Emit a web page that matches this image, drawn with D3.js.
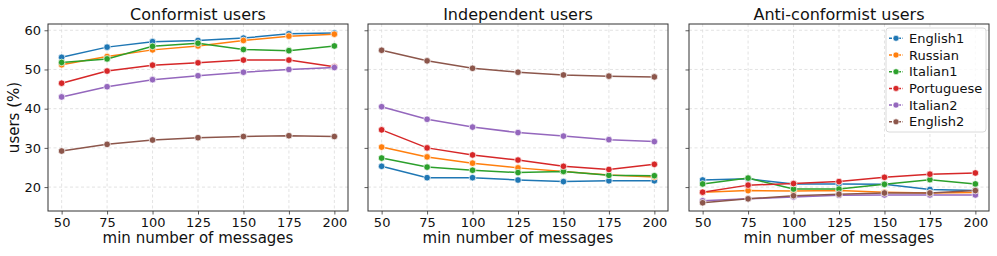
<!DOCTYPE html>
<html>
<head>
<meta charset="utf-8">
<script src="https://cdn.jsdelivr.net/npm/d3@7"></script>
<style>
  body { margin: 0; background: #fff; }
  svg { display: block; font-family: "DejaVu Sans", sans-serif; }
</style>
</head>
<body>
<svg width="997" height="256"></svg>
<script>
// x values shared by every panel
const minMessages = [50, 75, 100, 125, 150, 175, 200];
const languages = ["English1", "Russian", "Italian1", "Portuguese", "Italian2", "English2"];
const colors = ["#1f77b4", "#ff7f0e", "#2ca02c", "#d62728", "#9467bd", "#8c564b"];
const xTicks = [50, 75, 100, 125, 150, 175, 200];
const yTicks = [20, 30, 40, 50, 60];
const panelTitles = ["Conformist users", "Independent users", "Anti-conformist users"];

// values, one row per language
const conformist = [
    [53.1, 55.7, 57.1, 57.4, 58.0, 59.1, 59.3],
    [51.2, 53.3, 55.0, 56.0, 57.4, 58.5, 59.0],
    [51.8, 52.7, 55.9, 56.7, 55.1, 54.8, 56.0],
    [46.5, 49.6, 51.1, 51.7, 52.4, 52.4, 50.7],
    [43.0, 45.6, 47.4, 48.4, 49.3, 50.0, 50.5],
    [29.2, 30.9, 32.0, 32.6, 32.9, 33.1, 32.9]
];
const independent = [
    [25.3, 22.4, 22.4, 21.8, 21.4, 21.6, 21.6],
    [30.2, 27.7, 26.1, 24.9, 24.0, 23.1, 22.6],
    [27.4, 25.1, 24.3, 23.7, 24.0, 23.0, 22.9],
    [34.6, 30.0, 28.2, 26.9, 25.3, 24.5, 25.8],
    [40.5, 37.3, 35.3, 33.9, 33.0, 32.1, 31.6],
    [54.9, 52.2, 50.3, 49.3, 48.6, 48.3, 48.1]
];
const antiConformist = [
    [21.8, 22.1, 20.8, 20.8, 20.7, 19.4, 19.1],
    [18.7, 19.1, 19.0, 19.1, 18.7, 18.5, 18.6],
    [20.8, 22.3, 19.5, 19.5, 20.7, 21.9, 20.8],
    [18.7, 20.5, 20.9, 21.4, 22.5, 23.3, 23.6],
    [16.5, 17.0, 17.5, 17.9, 18.0, 18.0, 18.0],
    [16.0, 17.0, 17.8, 18.2, 18.5, 18.5, 19.1]
];
const panels = [conformist, independent, antiConformist];

const svg = d3.select("svg");
const panelLeft = [48, 368, 689];
const panelW = 300;
const plotTop = 24, plotBottom = 211;

const x = d3.scaleLinear().domain([42.5, 207.5]).range([0, panelW]);
const y = d3.scaleLinear().domain([13.9, 61.6]).range([plotBottom, plotTop]);

panels.forEach((rows, p) => {
    const g = svg.append("g").attr("transform", `translate(${panelLeft[p]},0)`);

    // grid
    g.append("g").selectAll("line").data(xTicks).join("line")
        .attr("x1", d => x(d)).attr("x2", d => x(d))
        .attr("y1", plotTop).attr("y2", plotBottom)
        .attr("stroke", "#dcdcdc").attr("stroke-width", 0.8).attr("stroke-dasharray", "3,2.5");
    g.append("g").selectAll("line").data(yTicks).join("line")
        .attr("x1", 0).attr("x2", panelW)
        .attr("y1", d => y(d)).attr("y2", d => y(d))
        .attr("stroke", "#dcdcdc").attr("stroke-width", 0.8).attr("stroke-dasharray", "3,2.5");

    // axes
    const xAxis = g.append("g").attr("transform", `translate(0,${plotBottom})`)
        .call(d3.axisBottom(x).tickValues(xTicks).tickSize(3.5).tickPadding(3.5));
    const yAxis = g.append("g")
        .call(d3.axisLeft(y).tickValues(yTicks).tickSize(3.5).tickPadding(3.5)
            .tickFormat(p === 0 ? d3.format("d") : () => ""));
    [xAxis, yAxis].forEach(a => {
        a.select(".domain").remove();
        a.selectAll("line").attr("stroke", "#333").attr("stroke-width", 0.8);
        a.selectAll("text").attr("font-size", 13).attr("fill", "#111")
            .attr("font-family", "DejaVu Sans, sans-serif");
    });

    // lines and markers
    const line = d3.line().x((d, i) => x(minMessages[i])).y(d => y(d));
    rows.forEach((vals, s) => {
        g.append("path").datum(vals)
            .attr("d", line).attr("fill", "none")
            .attr("stroke", colors[s]).attr("stroke-width", 1.5);
        g.append("g").selectAll("circle").data(vals).join("circle")
            .attr("cx", (d, i) => x(minMessages[i])).attr("cy", d => y(d))
            .attr("r", 3.3).attr("fill", colors[s])
            .attr("stroke", "#fff").attr("stroke-width", 0.7);
    });

    // frame
    g.append("rect").attr("x", 0).attr("y", plotTop)
        .attr("width", panelW).attr("height", plotBottom - plotTop)
        .attr("fill", "none").attr("stroke", "#333").attr("stroke-width", 1);

    g.append("text").attr("x", panelW / 2).attr("y", 19.5)
        .attr("text-anchor", "middle").attr("font-size", 16).attr("fill", "#111")
        .text(panelTitles[p]);
    g.append("text").attr("x", panelW / 2).attr("y", 243)
        .attr("text-anchor", "middle").attr("font-size", 15).attr("fill", "#111")
        .text("min number of messages");
});

svg.append("text")
    .attr("transform", `translate(19,${(plotTop + plotBottom) / 2}) rotate(-90)`)
    .attr("text-anchor", "middle").attr("font-size", 15).attr("fill", "#111")
    .text("users (%)");

// legend
const legend = svg.append("g").attr("transform", "translate(886,28)");
legend.append("rect").attr("width", 100).attr("height", 104).attr("rx", 3)
    .attr("fill", "#fff").attr("fill-opacity", 0.8)
    .attr("stroke", "#d0d0d0").attr("stroke-width", 0.8);
languages.forEach((name, i) => {
    const row = legend.append("g").attr("transform", `translate(0,${10.3 + i * 16.7})`);
    row.append("line").attr("x1", 3).attr("x2", 17)
        .attr("stroke", colors[i]).attr("stroke-width", 1.5).attr("stroke-dasharray", "3,1.5");
    row.append("circle").attr("cx", 10).attr("r", 3).attr("fill", colors[i])
        .attr("stroke", "#fff").attr("stroke-width", 0.6);
    row.append("text").attr("x", 23).attr("dy", "0.35em")
        .attr("font-size", 13).attr("fill", "#111").text(name);
});
</script>
</body>
</html>
